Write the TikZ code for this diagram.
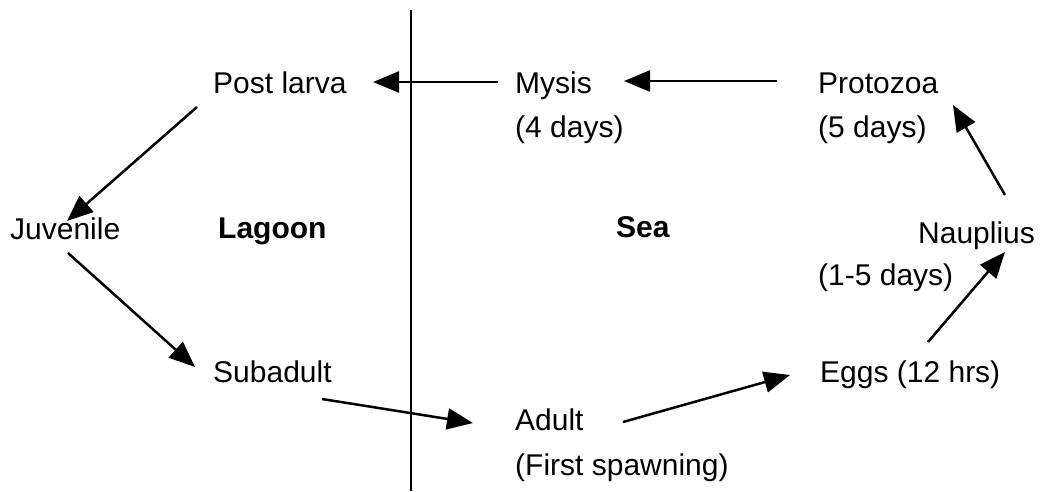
\documentclass[tikz,border=0pt]{standalone}
\usepackage{fontspec}
\setmainfont{Liberation Sans}
\usetikzlibrary{arrows.meta}
\begin{document}
\begin{tikzpicture}[x=1pt,y=-1pt,
  lbl/.style={anchor=base west,inner sep=0pt,font=\fontsize{30}{36}\selectfont},
  bold/.style={lbl,font=\fontsize{30}{36}\selectfont\bfseries},
  arr/.style={line width=2.5pt,-{Triangle[length=26pt,width=21pt]}},
  divider/.style={line width=2.5pt}]
\useasboundingbox (0,0) rectangle (1045,491);
% texts
\node[lbl] (postlarva) at (213,93) {Post larva};
\node[lbl] (mysis) at (515,93) {Mysis};
\node[lbl] (mysisd) at (515,137) {(4 days)};
\node[lbl] (protozoa) at (818,93) {Protozoa};
\node[lbl] (protozoad) at (818,137) {(5 days)};
\node[lbl] (juvenile) at (10,239) {Juvenile};
\node[bold] (lagoon) at (218,238) {Lagoon};
\node[bold] (sea) at (616,237) {Sea};
\node[lbl] (nauplius) at (918,243) {Nauplius};
\node[lbl] (naupliusd) at (818,285) {(1-5 days)};
\node[lbl] (subadult) at (213,382) {Subadult};
\node[lbl] (eggs) at (820,382) {Eggs (12 hrs)};
\node[lbl] (adult) at (515,430) {Adult};
\node[lbl] (adultd) at (515,475) {(First spawning)};
% divider
\coordinate (divtop) at (411,10);
\coordinate (divbot) at (411,491);
\draw[divider] (divtop) -- (divbot);
% connector ends
\coordinate (mysis-out) at (498,82);
\coordinate (postlarva-in) at (373,82);
\coordinate (protozoa-out) at (777,81);
\coordinate (mysis-in) at (624,81);
\coordinate (postlarva-out) at (197,107);
\coordinate (juvenile-in) at (67,221);
\coordinate (juvenile-out) at (68,253);
\coordinate (subadult-in) at (195,367);
\coordinate (subadult-out) at (322,399);
\coordinate (adult-in) at (473,423);
\coordinate (adult-out) at (623,422);
\coordinate (eggs-in) at (790,375);
\coordinate (eggs-out) at (928,342);
\coordinate (nauplius-in) at (1005,252);
\coordinate (nauplius-out) at (1005,195);
\coordinate (protozoa-in) at (953,105);
% connectors
\draw[arr] (mysis-out) -- (postlarva-in);
\draw[arr] (protozoa-out) -- (mysis-in);
\draw[arr] (postlarva-out) -- (juvenile-in);
\draw[arr] (juvenile-out) -- (subadult-in);
\draw[arr] (subadult-out) -- (adult-in);
\draw[arr] (adult-out) -- (eggs-in);
\draw[arr] (eggs-out) -- (nauplius-in);
\draw[arr] (nauplius-out) -- (protozoa-in);
\end{tikzpicture}
\end{document}
